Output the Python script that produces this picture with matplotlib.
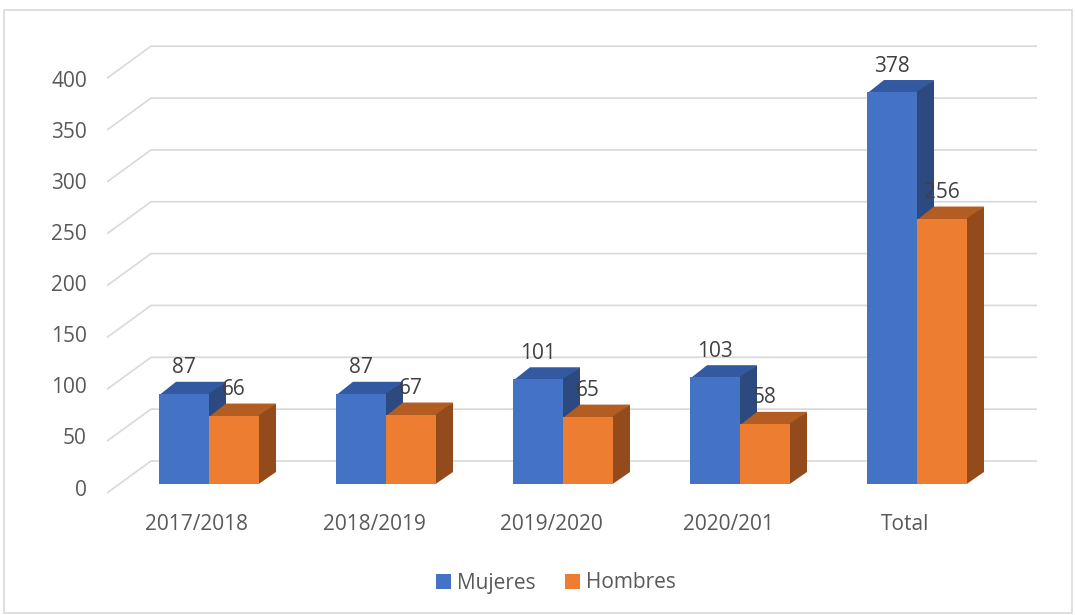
import matplotlib
matplotlib.use("Agg")
import matplotlib.pyplot as plt
from matplotlib.patches import Polygon, Rectangle, Patch

categories = ["2017/2018", "2018/2019", "2019/2020", "2020/201", "Total"]
mujeres = [87, 87, 101, 103, 378]
hombres = [66, 67, 65, 58, 256]
series_names = ["Mujeres", "Hombres"]
yticks = [0, 50, 100, 150, 200, 250, 300, 350, 400]

W, H = 1075, 615
fig = plt.figure(figsize=(W / 100, H / 100), dpi=100)
ax = fig.add_axes([0, 0, 1, 1])

PX_CAT = 177.0
PX_VAL = 1.037
X0 = 209.0
Y0 = 484.0
ax.set_xlim(-X0 / PX_CAT, (W - X0) / PX_CAT)
ax.set_ylim((Y0 - H) / PX_VAL, Y0 / PX_VAL)
ax.axis("off")

FONT = ["Open Sans", "DejaVu Sans"]
TXT = "#595959"
GRID = "#D9D9D9"
FS = 15

bw = 50 / PX_CAT
ddx = 17 / PX_CAT
ddy = 12 / PX_VAL

back_x0 = (151 - X0) / PX_CAT
front_x0 = (107 - X0) / PX_CAT
right_x = (1037 - X0) / PX_CAT
back_off = (Y0 - 461) / PX_VAL
front_off = (Y0 - 493) / PX_VAL
for v in yticks:
    ax.plot([front_x0, back_x0, right_x], [v + front_off, v + back_off, v + back_off],
            color=GRID, lw=1.2, zorder=1, solid_capstyle="butt")
    ax.text((87 - X0) / PX_CAT, v * 0.985 - 5.8, str(v), ha="right", va="center",
            fontsize=FS, color=TXT, family=FONT)

colors = [("#4472C4", "#3359A0", "#2C4A80"), ("#ED7D31", "#B35D22", "#944B1B")]

def bar3d(x, val, cols):
    front, top, side = cols
    eps = 1.5 / PX_VAL
    ax.add_patch(Polygon([[x, val - eps], [x + bw, val - eps], [x + bw + ddx, val + ddy], [x + ddx, val + ddy]],
                         closed=True, facecolor=top, edgecolor="none", zorder=3))
    ax.add_patch(Polygon([[x + bw - 0.002, 0], [x + bw + ddx, ddy], [x + bw + ddx, val + ddy], [x + bw - 0.002, val]],
                         closed=True, facecolor=side, edgecolor="none", zorder=3))
    ax.add_patch(Rectangle((x, 0), bw, val, facecolor=front, edgecolor="none", zorder=3))

for i, cat in enumerate(categories):
    for j, vals in enumerate([mujeres, hombres]):
        x = i - bw + j * bw
        bar3d(x, vals[i], colors[j])
        ax.text(x + bw / 2, vals[i] + 25, str(vals[i]), ha="center", va="center",
                fontsize=FS, color="#404040", family=FONT, zorder=5)
    ax.text(i - 12 / PX_CAT, (Y0 - 524) / PX_VAL, cat, ha="center", va="center",
            fontsize=FS, color=TXT, family=FONT)

handles = [Patch(facecolor=colors[0][0]), Patch(facecolor=colors[1][0])]
fig.legend(handles, series_names, loc="center", bbox_to_anchor=(556 / W, 1 - 583 / H),
           ncol=2, frameon=False, handlelength=0.7, handleheight=0.7, handletextpad=0.3,
           columnspacing=1.4, prop={"family": FONT, "size": FS}, labelcolor=TXT)

fig.add_artist(Rectangle((3.5 / W, 2 / H), 1068 / W, (605 - 2) / H,
                         transform=fig.transFigure, fill=False, edgecolor=GRID, lw=1.2))

fig.savefig("out.png", dpi=100)
